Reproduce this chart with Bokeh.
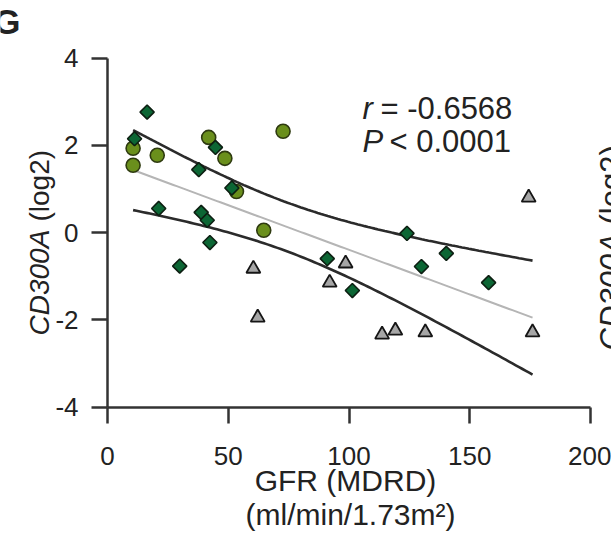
import numpy as np
from bokeh.plotting import figure
from bokeh.models import FixedTicker, Range1d, LinearAxis, Grid
from bokeh.core.properties import value
from bokeh.embed import file_html
from bokeh.resources import INLINE

# ---- data ----
dia_gfr = [16.4, 11.2, 44.7, 37.8, 21.2, 38.8, 41.3, 42.4, 29.9, 91.0, 101.4, 124.0, 140.3, 130.0, 157.8, 51.5]
dia_cd = [2.76, 2.15, 1.95, 1.44, 0.55, 0.46, 0.28, -0.23, -0.77, -0.60, -1.33, -0.02, -0.48, -0.78, -1.15, 1.02]
cir_gfr = [41.9, 48.6, 10.6, 10.6, 20.6, 53.4, 72.7, 64.7]
cir_cd = [2.18, 1.70, 1.93, 1.54, 1.77, 0.94, 2.32, 0.05]
tri_gfr = [60.4, 62.2, 98.6, 92.0, 113.7, 119.2, 131.6, 174.4, 176.0]
tri_cd = [-0.83, -1.95, -0.71, -1.15, -2.34, -2.25, -2.29, 0.80, -2.29]
x_ticks = [0, 50, 100, 150, 200]
y_ticks = [-4, -2, 0, 2, 4]
r_value_text = "= -0.6568"
p_value_text = "< 0.0001"
t_crit = 2.744  # band multiplier (df = n-2)

FONT = "Liberation Sans"
TXT = "#222222"
AX = "#333333"

# ---- regression and confidence band ----
x = np.array(dia_gfr + cir_gfr + tri_gfr)
y = np.array(dia_cd + cir_cd + tri_cd)
n = len(x)
slope, intercept = np.polyfit(x, y, 1)
xs = np.linspace(x.min(), x.max(), 120)
fit = intercept + slope * xs
resid = y - (intercept + slope * x)
s = np.sqrt(np.sum(resid ** 2) / (n - 2))
sxx = np.sum((x - x.mean()) ** 2)
hw = t_crit * s * np.sqrt(1.0 / n + (xs - x.mean()) ** 2 / sxx)

# frame covers the whole canvas; axes are fixed at x=0 / y=-4 with bounds
PX_X = 483 / 200.0   # px per GFR unit
PX_Y = 349 / 8.0     # px per log2 unit
X0, Y0 = 107, 232    # canvas px of (0, 0)
W, H = 611, 538

p = figure(width=W, height=H,
           x_range=Range1d(-X0 / PX_X, (W - X0) / PX_X),
           y_range=Range1d(-(H - Y0) / PX_Y, Y0 / PX_Y),
           x_axis_location=None, y_axis_location=None,
           output_backend="svg", toolbar_location=None,
           min_border=0, min_border_left=0, min_border_right=0,
           min_border_top=0, min_border_bottom=0)
p.outline_line_color = None
p.background_fill_color = "white"
p.border_fill_color = "white"
p.center = [c for c in p.center if not isinstance(c, Grid)]
p.renderers = [r for r in p.renderers if not isinstance(r, Grid)]

xaxis = LinearAxis(fixed_location=-4, bounds=(0, 200), ticker=FixedTicker(ticks=x_ticks))
yaxis = LinearAxis(fixed_location=0, bounds=(-4, 4), ticker=FixedTicker(ticks=y_ticks))
for ax, ticks in ((xaxis, x_ticks), (yaxis, y_ticks)):
    ax.axis_line_width = 2.5
    ax.axis_line_color = AX
    ax.major_tick_line_width = 2.5
    ax.major_tick_line_color = AX
    ax.major_tick_out = 16
    ax.major_tick_in = 0
    ax.minor_tick_out = 0
    ax.minor_tick_in = 0
    ax.major_label_text_font = FONT
    ax.major_label_text_color = TXT
    ax.major_label_text_font_size = "26px"
    ax.major_label_overrides = {t: str(t) for t in ticks}
xaxis.major_label_standoff = 24
yaxis.major_label_standoff = 13
p.add_layout(xaxis, "below")
p.add_layout(yaxis, "left")

# lines
p.line(xs, fit, line_color="#b5b5b5", line_width=2)
p.line(xs, fit + hw, line_color="#2b2b2b", line_width=2.6)
p.line(xs, fit - hw, line_color="#2b2b2b", line_width=2.6)

# points
p.scatter(tri_gfr, tri_cd, marker="triangle", size=14, fill_color="#a6a6a6",
          line_color="#151515", line_width=1.8)
p.scatter(cir_gfr, cir_cd, marker="circle", size=14, fill_color="#6a8f1c",
          line_color="#2e3a10", line_width=1.6)
p.scatter(dia_gfr, dia_cd, marker="square", angle=np.pi / 4, size=10,
          fill_color="#0c6634", line_color="#0d1f12", line_width=1.6)


def dx(px):
    return (px - X0) / PX_X


def dy(py):
    return (Y0 - py) / PX_Y


def txt(px, py, s, size, style="normal", align="left", angle=0.0):
    # anchor (px, py) is the vertical centre of the text line
    p.text(x=[dx(px)], y=[dy(py)], text=[s], angle=angle,
           text_font=value(FONT), text_font_size=value(size),
           text_font_style=value(style), text_align=value(align),
           text_baseline=value("middle"), text_color=TXT)


# statistics text
txt(362, 108, "r", "31px", style="italic")
txt(380, 108, r_value_text, "31px")
txt(362, 141, "P", "31px", style="italic")
txt(389, 141, p_value_text, "31px")

# axis titles
txt(345, 480, "GFR (MDRD)", "30px", align="center")
txt(350, 514, "(ml/min/1.73m\u00b2)", "30px", align="center")
txt(38.5, 335, "CD300A", "28px", style="italic", angle=np.pi / 2)
txt(38.5, 221, "(log2)", "28px", angle=np.pi / 2)

# partial texts of neighbouring panels
txt(20, 21, "G", "35px", style="bold", align="right")
txt(611, 350, "CD300A", "31px", style="italic", angle=np.pi / 2)
txt(611, 224, "(log2)", "31px", angle=np.pi / 2)

open("out.html", "w").write(file_html(p, INLINE))
